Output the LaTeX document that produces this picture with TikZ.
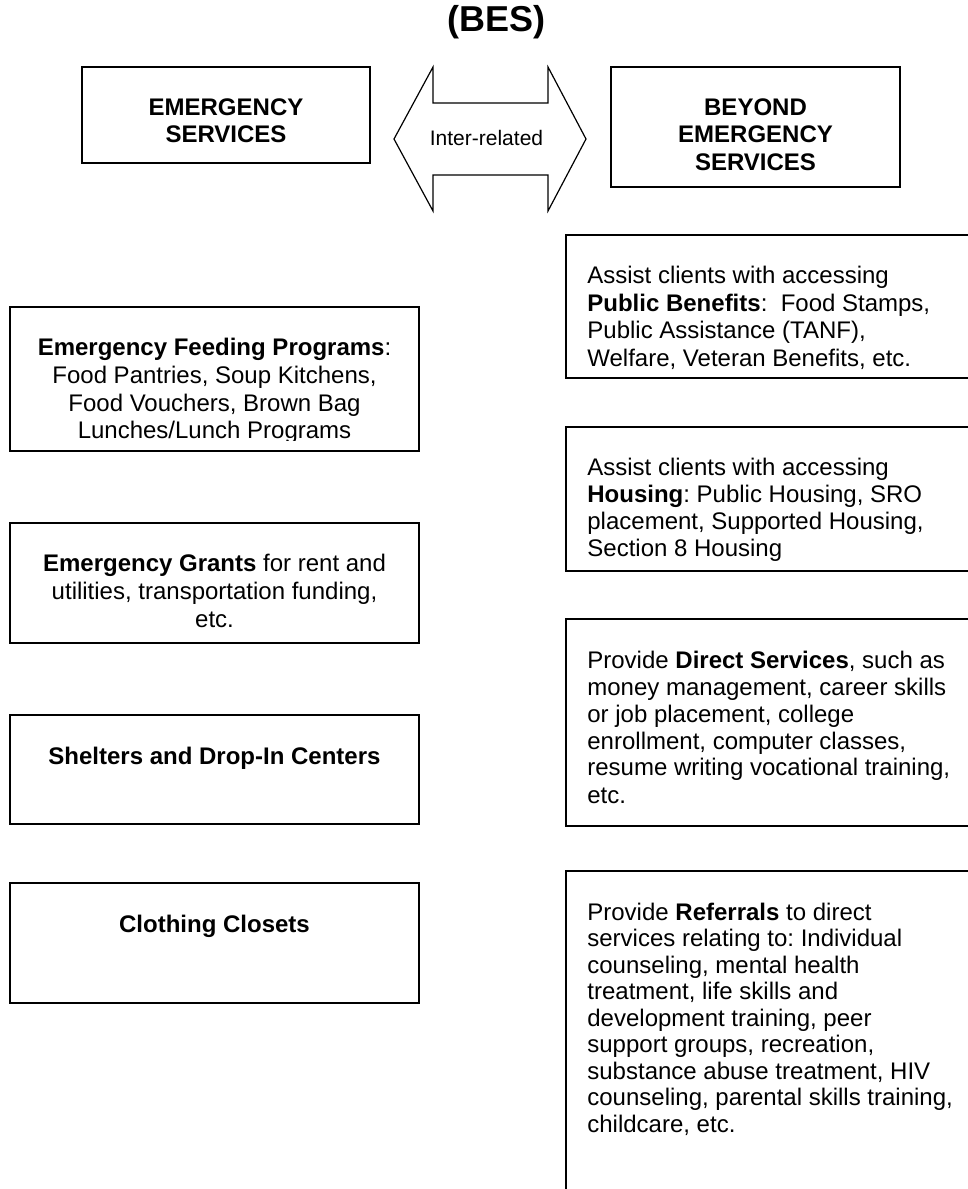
\documentclass[tikz,border=0pt]{standalone}
\usepackage{fontspec}
\setmainfont{Liberation Sans}
\usepackage{tikz}
\usetikzlibrary{positioning}
\frenchspacing
\tikzset{
    %Define style for the framed boxes
    panel/.style={
           rectangle,
           draw=black, line width=1pt,
           inner sep=0pt, outer sep=0pt},
    leftbox/.style={panel, minimum width=204.5pt},
    rightbox/.style={panel, minimum width=240pt},
    %Define style for the box texts
    ctext/.style={
           inner sep=0pt,
           align=center,
           font=\fontsize{12}{13.8}\selectfont},
    ltext/.style={
           inner sep=0pt,
           align=left,
           font=\fontsize{12}{13.7}\selectfont},
    headtext/.style={
           inner sep=0pt,
           align=center,
           font=\fontsize{12}{13.8}\selectfont\bfseries},
    % Define style for the two-way arrow
    twoway/.style={
           draw=black, line width=0.6pt}
}

\begin{document}
\begin{tikzpicture}
\clip (0,0) rectangle (484pt,-594.5pt);
\node[anchor=base, font=\fontsize{18}{20}\selectfont\bfseries] (title) at (248.25pt,-15.85pt) {(BES)};

% top row
\node[panel, anchor=north west, minimum width=144pt, minimum height=48pt] (es) at (41pt,-33.5pt) {};
\node[headtext, below=15.6pt of es.north] (es-t) {EMERGENCY\\SERVICES};
\node[panel, anchor=north west, minimum width=144.5pt, minimum height=60pt] (bes) at (305.5pt,-33.5pt) {};
\node[headtext, below=15.6pt of bes.north] (bes-t) {BEYOND\\EMERGENCY\\SERVICES};
\draw[twoway] (197pt,-69.5pt) -- (216.5pt,-33.5pt) -- (216.5pt,-51.5pt) -- (274pt,-51.5pt)
    -- (274pt,-33.5pt) -- (293pt,-69.5pt) -- (274pt,-105.5pt) -- (274pt,-87.5pt)
    -- (216.5pt,-87.5pt) -- (216.5pt,-105.5pt) -- cycle;
\node[font=\fontsize{10.5}{12}\selectfont] (rel) at (243.25pt,-69pt) {Inter-related};

% left column
\node[leftbox, anchor=north west, minimum height=72pt] (feed) at (5pt,-153.5pt) {};
\node[leftbox, below=36pt of feed, minimum height=60pt] (grant) {};
\node[leftbox, below=36pt of grant, minimum height=54.5pt] (shelter) {};
\node[leftbox, below=29.5pt of shelter, minimum height=60pt] (cloth) {};

\begin{scope}
\clip (feed.north west) rectangle ([yshift=5.5pt]feed.south east);
\node[ctext, below=15.6pt of feed.north] (feed-t) {\textbf{Emergency Feeding Programs}:\\Food Pantries, Soup Kitchens,\\Food Vouchers, Brown Bag\\Lunches/Lunch Programs};
\end{scope}
\node[ctext, below=15.6pt of grant.north] (grant-t) {\textbf{Emergency Grants} for rent and\\utilities, transportation funding,\\etc.};
\node[headtext, below=15.6pt of shelter.north] (shelter-t) {Shelters and Drop-In Centers};
\node[headtext, below=15.6pt of cloth.north] (cloth-t) {Clothing Closets};

% right column
\node[rightbox, anchor=north west, minimum height=71.5pt] (pub) at (283pt,-117.5pt) {};
\node[rightbox, below=24.5pt of pub, minimum height=72pt] (house) {};
\node[rightbox, below=24pt of house, minimum height=103.5pt] (direct) {};
\node[rightbox, below=22.5pt of direct, minimum height=200pt] (refer) {};

\node[ltext, below right=15.6pt and 10.5pt of pub.north west] (pub-t) {Assist clients with accessing\\\textbf{Public Benefits}:~ Food Stamps,\\Public Assistance (TANF),\\Welfare, Veteran Benefits, etc.};
\begin{scope}
\clip (house.north west) rectangle ([yshift=5.5pt]house.south east);
\node[ltext, below right=15.6pt and 10.5pt of house.north west, font=\fontsize{12}{13.5}\selectfont] (house-t) {Assist clients with accessing\\\textbf{Housing}: Public Housing, SRO\\placement, Supported Housing,\\Section 8 Housing};
\end{scope}
\node[ltext, below right=15.6pt and 10.5pt of direct.north west, font=\fontsize{12}{13.5}\selectfont] (direct-t) {Provide \textbf{Direct Services}, such as\\money management, career skills\\or job placement, college\\enrollment, computer classes,\\resume writing vocational training,\\etc.};
\node[ltext, below right=15.6pt and 10.5pt of refer.north west, font=\fontsize{12}{13.25}\selectfont] (refer-t) {Provide \textbf{Referrals} to direct\\services relating to: Individual\\counseling, mental health\\treatment, life skills and\\development training, peer\\support groups, recreation,\\substance abuse treatment, HIV\\counseling, parental skills training,\\childcare, etc.};
\end{tikzpicture}
\end{document}
